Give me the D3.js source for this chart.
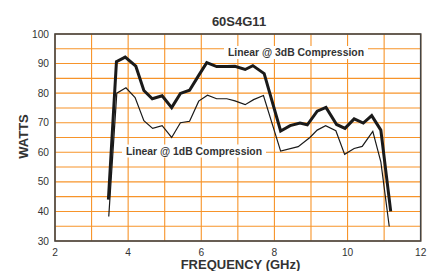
<!DOCTYPE html>
<html>
<head>
<meta charset="utf-8">
<script src="https://cdn.jsdelivr.net/npm/d3@7"></script>
<style>
  html, body { margin: 0; padding: 0; background: #fff; }
  svg { display: block; font-family: "Liberation Sans", Arial, Helvetica, sans-serif; }
</style>
</head>
<body>
<svg id="chart" width="433" height="271"></svg>
<script>
const title = "60S4G11";
const xLabel = "FREQUENCY (GHz)";
const yLabel = "WATTS";
const xTicks = [2, 4, 6, 8, 10, 12];
const yTicks = [30, 40, 50, 60, 70, 80, 90, 100];
const xGrid = [2, 3, 4, 5, 6, 7, 8, 9, 10, 11, 12];
const yGrid = [30, 35, 40, 45, 50, 55, 60, 65, 70, 75, 80, 85, 90, 95, 100];

const freq3dB = [3.46, 3.68, 3.92, 4.21, 4.43, 4.66, 4.93, 5.19, 5.43, 5.68, 5.93, 6.15, 6.42, 6.70, 6.92, 7.20, 7.41, 7.72, 8.17, 8.43, 8.70, 8.90, 9.17, 9.41, 9.70, 9.93, 10.18, 10.43, 10.66, 10.91, 11.18];
const watts3dB = [44, 90.6, 92.2, 89.1, 80.9, 78.1, 79.1, 75.1, 79.9, 81.0, 86.0, 90.3, 89.0, 89.0, 89.1, 88.0, 89.3, 86.6, 67.2, 69.0, 69.9, 69.3, 73.9, 75.2, 69.4, 68.1, 71.3, 69.9, 72.4, 67.5, 40];

const freq1dB = [3.47, 3.69, 3.94, 4.19, 4.43, 4.67, 4.93, 5.19, 5.43, 5.68, 5.93, 6.17, 6.42, 6.70, 6.92, 7.20, 7.43, 7.70, 8.17, 8.65, 8.97, 9.17, 9.40, 9.68, 9.92, 10.18, 10.40, 10.69, 10.91, 11.14];
const watts1dB = [38.3, 80, 81.8, 78.5, 70.7, 68.1, 69, 65, 70, 70.5, 77.3, 79.3, 78.1, 78.1, 77.4, 76.1, 77.8, 79.2, 60.4, 61.9, 65, 67.5, 69, 67.3, 59.3, 61.3, 62, 67.1, 56.8, 34.9];

const label3dB = "Linear @ 3dB Compression";
const label1dB = "Linear @ 1dB Compression";

const svg = d3.select("#chart");
const x = d3.scaleLinear().domain([2, 12]).range([55, 420.7]);
const y = d3.scaleLinear().domain([30, 100]).range([241, 34]);

const grid = svg.append("g");
grid.selectAll("line.v").data(xGrid).join("line")
  .attr("x1", d => x(d)).attr("x2", d => x(d))
  .attr("y1", y(100)).attr("y2", y(30))
  .attr("stroke", "#f7942a").attr("stroke-width", 1.1);
grid.selectAll("line.h").data(yGrid).join("line")
  .attr("x1", x(2)).attr("x2", x(12))
  .attr("y1", d => y(d)).attr("y2", d => y(d))
  .attr("stroke", "#f7942a").attr("stroke-width", 1.1);

// label backgrounds
function labelBox(text, cx, cy) {
  const t = svg.append("text")
    .attr("x", cx).attr("y", cy)
    .attr("text-anchor", "middle").attr("dominant-baseline", "central")
    .attr("font-size", "10.4px").attr("font-weight", "bold").attr("fill", "#333")
    .text(text);
  const bb = t.node().getBBox();
  svg.insert("rect", "text")
    .attr("x", bb.x - 4).attr("y", bb.y - 1)
    .attr("width", bb.width + 8).attr("height", bb.height + 2)
    .attr("fill", "#fff");
  return t;
}

const line = d3.line().x(d => x(d[0])).y(d => y(d[1]));
svg.append("path")
  .datum(d3.zip(freq1dB, watts1dB))
  .attr("d", line).attr("fill", "none")
  .attr("stroke", "#1a1a1a").attr("stroke-width", 1.2).attr("stroke-linejoin", "miter");
svg.append("path")
  .datum(d3.zip(freq3dB, watts3dB))
  .attr("d", line).attr("fill", "none")
  .attr("stroke", "#1a1a1a").attr("stroke-width", 3).attr("stroke-linejoin", "miter");

labelBox(label3dB, 296, 52.5);
labelBox(label1dB, 194, 151);

// frame
svg.append("rect")
  .attr("x", x(2)).attr("y", y(100))
  .attr("width", x(12) - x(2)).attr("height", y(30) - y(100))
  .attr("fill", "none").attr("stroke", "#444").attr("stroke-width", 1.6);

// ticks
svg.append("g").selectAll("text").data(yTicks).join("text")
  .attr("x", 49).attr("y", d => y(d))
  .attr("text-anchor", "end").attr("dominant-baseline", "central")
  .attr("font-size", "10.2px").attr("fill", "#333")
  .text(d => d);
svg.append("g").selectAll("text").data(xTicks).join("text")
  .attr("x", d => x(d)).attr("y", 256)
  .attr("text-anchor", "middle")
  .attr("font-size", "10.2px").attr("fill", "#333")
  .text(d => d);

svg.append("text")
  .attr("x", 239).attr("y", 26)
  .attr("text-anchor", "middle").attr("font-size", "13px").attr("font-weight", "bold").attr("fill", "#333")
  .text(title);
svg.append("text")
  .attr("x", 240.5).attr("y", 269)
  .attr("text-anchor", "middle").attr("font-size", "13px").attr("font-weight", "bold").attr("fill", "#333")
  .text(xLabel);
svg.append("text")
  .attr("transform", "translate(27.5,136.5) rotate(-90)")
  .attr("text-anchor", "middle").attr("font-size", "13px").attr("font-weight", "bold").attr("fill", "#333")
  .text(yLabel);
</script>
</body>
</html>
